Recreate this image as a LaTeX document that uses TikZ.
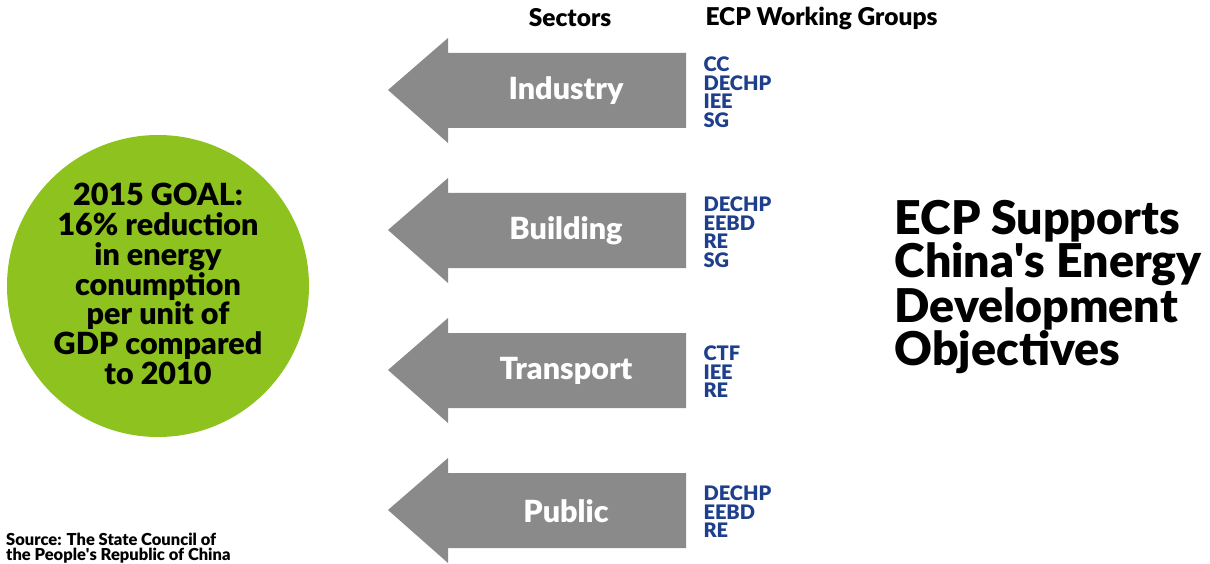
\documentclass[tikz,border=0pt]{standalone}
\usepackage{fontspec}
\setmainfont{Lato}[BoldFont={Lato Black}]
\definecolor{goalgreen}{HTML}{8DC21F}
\definecolor{arrowgray}{HTML}{8A8A8A}
\definecolor{groupblue}{HTML}{1D3F8C}
\tikzset{
  sector/.style={font=\fontsize{30.5}{30.5}\selectfont\bfseries, text=white},
  groups/.style={font=\fontsize{20}{18.5}\selectfont\bfseries, text=groupblue,
    anchor=west, align=left},
  header/.style={font=\fontsize{24.5}{24.5}\selectfont\bfseries},
}
\begin{document}
\begin{tikzpicture}[x=1pt,y=-1pt]
  \useasboundingbox (0,0) rectangle (1210,564);
  % goal circle
  \fill[goalgreen] (158,286) circle (151);
  \node[font=\fontsize{30.5}{29.8}\selectfont\bfseries, align=center] (goal) at (158,284)
    {2015 GOAL:\\16\% reduction\\in energy\\conumption\\per unit of\\GDP compared\\to 2010};
  % column headers
  \node[header] (sectors) at (570,18) {Sectors};
  \node[header, anchor=west] (wg) at (702,18) {ECP Working Groups};
  % sector arrows pointing left
  \foreach \y/\name/\grp in {90/Industry/{CC\\DECHP\\IEE\\SG},
                             230/Building/{DECHP\\EEBD\\RE\\SG},
                             370/Transport/{CTF\\IEE\\RE},
                             510/Public/{DECHP\\EEBD\\RE}} {
    \fill[arrowgray] (388,\y) -- (448,\y-52) -- (448,\y-37) -- (686,\y-37)
      -- (686,\y+38) -- (448,\y+38) -- (448,\y+53) -- cycle;
    \node[sector] (\name) at (566,\y+1) {\name};
    \node[groups] (\name-wg) at (700,\y+2) {\grp};
  }
  % title
  \node[font=\fontsize{46.5}{42.5}\selectfont\bfseries, anchor=west, align=left] (title)
    at (891,287) {ECP Supports\\China\textquotesingle s Energy\\Development\\Objectives};
  % source note
  \node[font=\fontsize{16.5}{15}\selectfont\bfseries, anchor=west, align=left,
    inner sep=1pt] (source)
    at (5,548) {Source: The State Council of\\the People\textquotesingle s Republic of China};
\end{tikzpicture}
\end{document}
